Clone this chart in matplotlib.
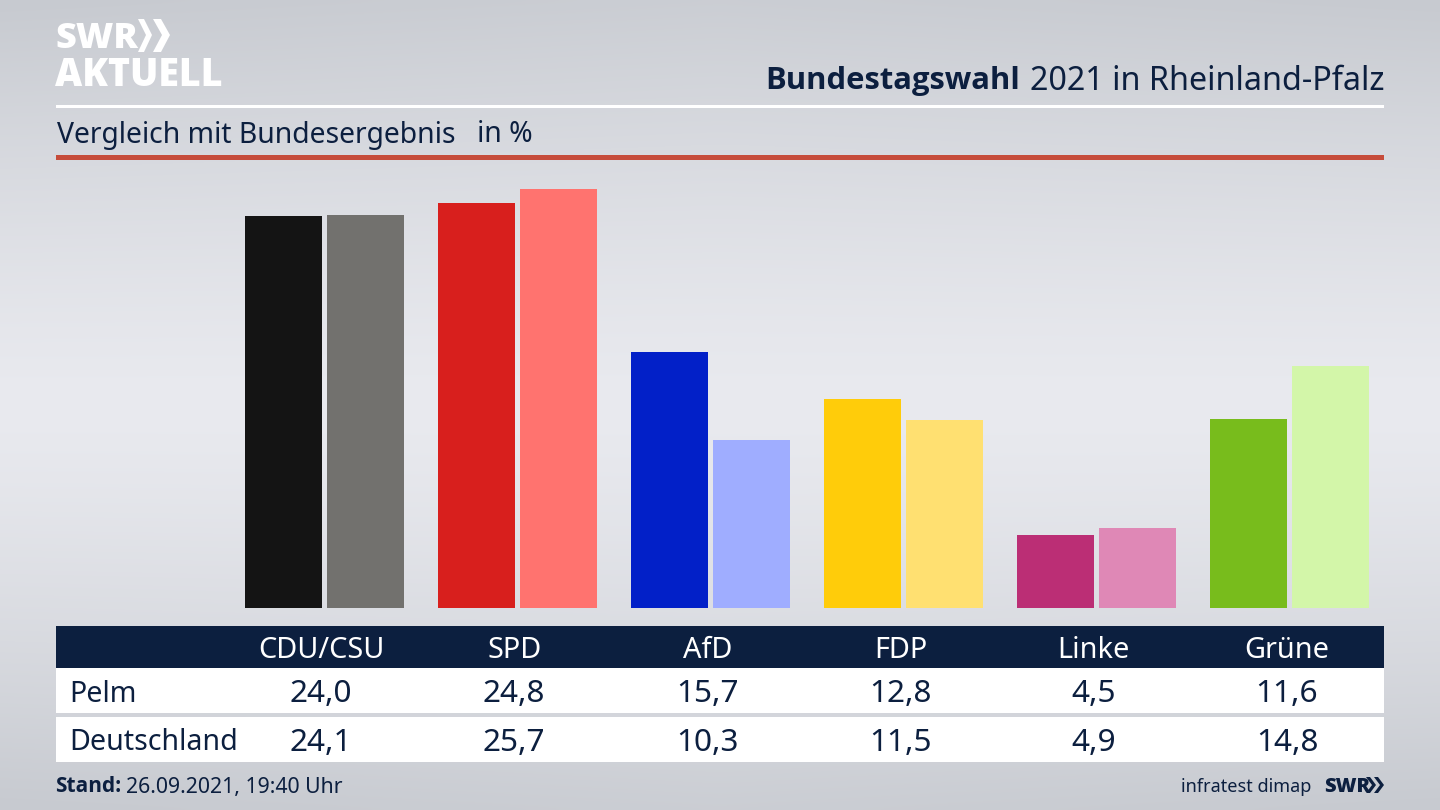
import numpy as np
import matplotlib
matplotlib.use("Agg")
import matplotlib.pyplot as plt
from matplotlib.patches import Rectangle, Polygon

parties = ["CDU/CSU", "SPD", "AfD", "FDP", "Linke", "Grüne"]
pelm = [24.0, 24.8, 15.7, 12.8, 4.5, 11.6]
deutschland = [24.1, 25.7, 10.3, 11.5, 4.9, 14.8]
pelm_labels = ["24,0", "24,8", "15,7", "12,8", "4,5", "11,6"]
deutschland_labels = ["24,1", "25,7", "10,3", "11,5", "4,9", "14,8"]
pelm_colors = ["#141414", "#d81f1d", "#0220c8", "#ffcc0a", "#bb2e75", "#78bc1c"]
deutschland_colors = ["#72716e", "#ff736f", "#9fadff", "#ffe071", "#df88b6", "#d3f6a9"]

NAVY = "#0c1f3f"
plt.rcParams["font.family"] = ["Noto Sans", "DejaVu Sans"]

W, H = 1440, 810
fig = plt.figure(figsize=(W / 100, H / 100), dpi=100)

# background gradient
bg = fig.add_axes([0, 0, 1, 1], zorder=0)
yy, xx = np.mgrid[0:1:162j, 0:1:288j]
t = np.clip(np.abs(yy - 0.5) / 0.5, 0, 1) ** 1.3
side = np.abs(xx - 0.5) / 0.5
top = np.array([0xc7, 0xca, 0xd0]) / 255
mid = np.array([0xe9, 0xea, 0xef]) / 255
grad = mid[None, None, :] + (top - mid)[None, None, :] * (t * (0.88 + 0.12 * side))[:, :, None]
bg.imshow(grad, extent=[0, 1, 0, 1], origin="upper", aspect="auto", interpolation="bicubic")
bg.axis("off")

# bars axes: x in group units, y in percent; baseline at pixel 608
PX_PER_PCT = 16.32
GROUP_STEP = 193.0
X0 = 324.7
ax = fig.add_axes([0, 0, 1, 1], zorder=1)
ax.set_xlim(-X0 / GROUP_STEP, (W - X0) / GROUP_STEP)
ax.set_ylim(-(H - 608) / PX_PER_PCT, 608 / PX_PER_PCT)
ax.axis("off")
ax.patch.set_alpha(0)
pos = np.arange(len(parties))
bw = 77 / GROUP_STEP
off = 41 / GROUP_STEP
ax.bar(pos - off, pelm, width=bw, color=pelm_colors, linewidth=0)
ax.bar(pos + off, deutschland, width=bw, color=deutschland_colors, linewidth=0)

# overlay in pixel coordinates
ov = fig.add_axes([0, 0, 1, 1], zorder=2)
ov.set_xlim(0, W)
ov.set_ylim(H, 0)
ov.axis("off")
ov.patch.set_alpha(0)

L, R = 56, 1384
ov.add_patch(Rectangle((L, 105), R - L, 3, color="white", lw=0))
ov.add_patch(Rectangle((L, 155), R - L, 5, color="#c64c3b", lw=0))
ov.add_patch(Rectangle((L, 626), R - L, 42, color=NAVY, lw=0))
ov.add_patch(Rectangle((L, 668), R - L, 45, color="white", lw=0))
ov.add_patch(Rectangle((L, 717), R - L, 45, color="white", lw=0))

# logo
BOLD = "Open Sans"
ov.text(55, 39, "SWR", color="white", fontsize=26, fontweight=800, family=BOLD, va="center", ha="left")
ov.text(55, 75, "AKTUELL", color="white", fontsize=27, fontweight=800, family=BOLD, va="center", ha="left")
for x, w, a in ((138, 14, 6), (153, 17, 8)):
    ov.add_patch(Polygon([(x, 19), (x + a, 19), (x + w, 35), (x + a, 52), (x, 52), (x + w - a, 35)], color="white", lw=0))

# heading
t1 = ov.text(1384, 81, "2021 in Rheinland-Pfalz", color=NAVY, fontsize=23.25, ha="right", va="center")
fig.canvas.draw()
bb = t1.get_window_extent()
ov.text(bb.x0 - 9, 81, "Bundestagswahl", color=NAVY, fontsize=22.3, fontweight="bold", family=BOLD, ha="right", va="center")
ov.text(57, 135, "Vergleich mit Bundesergebnis", color=NAVY, fontsize=20.4, ha="left", va="center")
ov.text(477, 135, "in %", color=NAVY, fontsize=20.4, ha="left", va="center")

# table
for i, p in enumerate(parties):
    cx = 321 + i * 193.2
    ov.text(cx, 650, p, color="white", fontsize=20.8, ha="center", va="center")
    ov.text(cx, 694, pelm_labels[i], color=NAVY, fontsize=22.7, ha="center", va="center")
    ov.text(cx, 743, deutschland_labels[i], color=NAVY, fontsize=22.7, ha="center", va="center")
ov.text(69, 694, "Pelm", color=NAVY, fontsize=20.6, ha="left", va="center")
ov.text(69, 742, "Deutschland", color=NAVY, fontsize=20.6, ha="left", va="center")

# footer
ov.text(55, 787, "Stand:", color=NAVY, fontsize=15, fontweight="bold", family=BOLD, ha="left", va="center")
ov.text(126, 788, "26.09.2021, 19:40 Uhr", color=NAVY, fontsize=15.3, ha="left", va="center")
ov.text(1311, 787, "infratest dimap", color=NAVY, fontsize=13, ha="right", va="center")
ov.text(1324, 787, "SWR", color=NAVY, fontsize=14.5, fontweight=800, family=BOLD, ha="left", va="center")
for dx in (0, 8):
    x = 1366 + dx
    ov.add_patch(Polygon([(x, 777), (x + 4, 777), (x + 10, 785), (x + 4, 793), (x, 793), (x + 6, 785)], color=NAVY, lw=0))

fig.savefig("out.png", dpi=100)
